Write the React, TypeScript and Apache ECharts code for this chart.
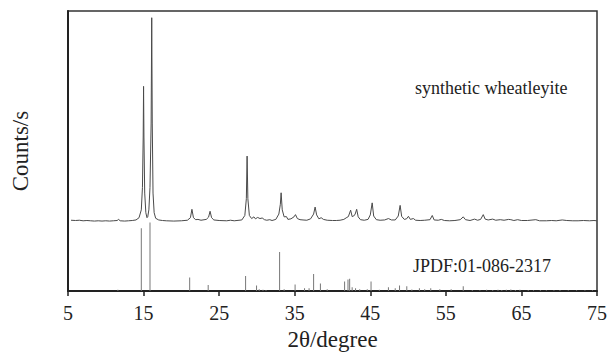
import React, { useEffect, useRef } from "react";
import * as echarts from "echarts";

// Measured XRD profile (2θ in degrees, relative intensity above its own baseline)
const patternPoints: [number, number][] = [
  [5.4,0.3],[6,0.2],[6.5,0.3],[7,0.1],[7.5,0.2],[8,0.1],[8.5,0],[9,0.1],[9.5,0],[10,0.1],[10.5,0],[11,0.1],[11.5,0.2],[11.7,0.6],[11.9,0.1],
  [12.5,0],[13,0.1],[13.5,0.2],[14,0.4],[14.4,1.2],[14.7,4],[14.85,12],[14.95,30],[15.0,48.1],[15.05,30],[15.15,10],[15.3,3],[15.45,1.2],
  [15.55,1.5],[15.7,4],[15.85,12],[16.0,35],[16.08,72.6],[16.15,35],[16.25,10],[16.4,3],[16.6,1],[17,0.4],[17.5,0.2],[18,0.1],[19,0],
  [20,0.1],[20.8,0.3],[21.2,1.2],[21.4,4.2],[21.6,1.2],[21.9,0.5],[22.2,0.6],[22.6,0.3],[23.3,0.6],[23.6,1.4],[23.8,3.5],[24.0,1.2],
  [24.3,0.4],[25,0.2],[26,0.1],[26.5,0.3],[27,0.1],[28,0.4],[28.4,2],[28.6,8],[28.7,23.2],[28.8,8],[29.0,2],[29.3,0.9],[29.6,1.5],
  [29.8,0.8],[30.1,1.3],[30.4,0.9],[30.7,1.1],[31,0.5],[31.3,0.3],[31.7,0.5],[32,0.2],[32.5,0.6],[32.9,2.5],[33.1,6],[33.2,10.1],
  [33.35,4],[33.6,1.5],[33.9,1.6],[34.1,0.6],[34.5,0.8],[34.9,1.5],[35.1,2.3],[35.35,0.9],[35.7,0.5],[36.1,0.4],[36.6,0.3],[37.1,0.8],
  [37.5,2.5],[37.7,5.0],[37.9,2.2],[38.2,0.8],[38.5,1.2],[38.8,0.6],[39.3,0.3],[40,0.2],[40.5,0.2],[41,0.3],[41.5,0.6],[41.9,1.3],
  [42.1,1.6],[42.4,3.9],[42.6,1.6],[42.8,1.8],[43.0,2.5],[43.2,4.2],[43.4,1.5],[43.7,0.5],[44.2,0.3],[44.7,0.6],[45.0,2.2],[45.25,6.5],
  [45.45,1.8],[45.8,0.5],[46.3,0.3],[46.9,0.4],[47.4,0.9],[47.8,0.4],[48.3,0.4],[48.7,1.8],[48.95,5.6],[49.15,1.7],[49.5,0.6],[49.8,0.8],
  [50.05,1.7],[50.3,0.6],[50.7,0.9],[51.0,0.3],[51.6,0.2],[52.2,0.3],[52.9,0.5],[53.2,2.0],[53.45,0.4],[54,0.3],[54.4,0.6],[54.8,0.2],
  [55.5,0.1],[56.2,0.2],[56.9,0.5],[57.3,1.5],[57.6,0.5],[58.2,0.2],[58.8,0.7],[59.2,0.3],[59.6,0.6],[59.95,2.3],[60.2,0.7],[60.6,0.4],
  [61.2,0.7],[61.6,0.3],[62.2,0.5],[62.7,0.3],[63.3,0.6],[63.6,0.5],[64.0,0.2],[64.5,0.5],[65,0.2],[65.8,0.2],[66.9,0.5],[67.4,0.1],
  [68.3,0.1],[69,0.2],[69.6,0.1],[70.4,0.4],[71,0.2],[71.8,0.1],[72.5,0.1],[73.2,0.2],[74,0.1],[74.6,0.2],[75,0.1],
];

// Vertical offset of the measured pattern above the reference sticks
const patternOffset = 25;

// Reference pattern JPDF:01-086-2317 (2θ, relative intensity)
const referenceSticks: [number, number][] = [
  [11.6,0.5],[14.7,22.4],[15.85,24.5],[21.1,4.9],[23.55,2.2],[28.5,5.4],[29.95,2.0],[30.3,0.7],[30.8,0.5],[31.2,0.4],
  [33.0,14.0],[33.6,0.7],[35.05,2.4],[36.3,1.0],[36.9,1.0],[37.5,6.1],[38.4,2.7],[39.3,0.7],[41.6,3.4],[42.05,4.1],
  [42.27,4.4],[42.6,1.4],[43.05,1.0],[43.6,0.7],[44.6,0.7],[45.1,3.4],[46.2,0.5],[47.4,1.4],[48.3,1.0],[48.87,2.0],
  [49.83,1.7],[50.5,0.6],[51.5,1.0],[52.2,0.7],[53.0,1.0],[54.2,0.7],[55.7,0.7],[57.3,1.7],[58.5,0.4],[59.5,0.3],
  [60.4,0.5],[61.2,0.4],[61.9,0.5],[62.4,0.4],[63.0,0.5],[63.6,0.6],[64.2,0.4],[64.8,0.5],[65.9,0.4],[66.6,0.3],
  [67.5,0.4],[68.3,0.3],[69.3,0.3],[70.1,0.4],[71.2,0.3],[72.3,0.3],[73.4,0.3],[74.4,0.3],
];

const xMin = 5;
const xMax = 75;
const xInterval = 10;
const sampleLabel = "synthetic wheatleyite";
const referenceLabel = "JPDF:01-086-2317";
const xTitle = "2θ/degree";
const yTitle = "Counts/s";

const FONT = "'Liberation Serif', 'Times New Roman', serif";

export default function App() {
  const ref = useRef<HTMLDivElement>(null);
  useEffect(() => {
    if (!ref.current) return;
    const chart = echarts.init(ref.current, undefined, { renderer: "svg" });
    chart.setOption({
      animation: false,
      backgroundColor: "#ffffff",
      grid: {
        left: 68,
        width: 534,
        top: 11,
        height: 293,
        show: true,
        borderColor: "#333",
        borderWidth: 1.5,
        backgroundColor: "transparent",
      },
      xAxis: {
        type: "value",
        min: xMin,
        max: xMax,
        interval: xInterval,
        name: xTitle,
        nameLocation: "middle",
        nameGap: 31,
        nameTextStyle: { fontFamily: FONT, fontSize: 23, color: "#222" },
        axisLine: { show: true, lineStyle: { color: "#222", width: 2 } },
        axisTick: { show: true, length: 5, lineStyle: { color: "#222", width: 1.5 } },
        axisLabel: { fontFamily: FONT, fontSize: 20, color: "#222", margin: 12 },
        splitLine: { show: false },
      },
      yAxis: {
        type: "value",
        min: 0,
        max: 100,
        name: yTitle,
        nameLocation: "middle",
        nameGap: 36,
        nameTextStyle: { fontFamily: FONT, fontSize: 23, color: "#222" },
        axisLine: { show: true, lineStyle: { color: "#222", width: 2 } },
        axisTick: { show: false },
        axisLabel: { show: false },
        splitLine: { show: false },
      },
      series: [
        {
          type: "bar",
          data: referenceSticks,
          barWidth: 1,
          itemStyle: { color: "#777" },
          silent: true,
        },
        {
          type: "line",
          data: patternPoints.map(([x, y]) => [x, y + patternOffset]),
          showSymbol: false,
          lineStyle: { color: "#4a4a4a", width: 1 },
          silent: true,
        },
      ],
      graphic: [
        {
          type: "text",
          left: 415,
          top: 79,
          style: { text: sampleLabel, font: `18px ${FONT}`, fill: "#222" },
        },
        {
          type: "text",
          left: 413,
          top: 257,
          style: { text: referenceLabel, font: `18px ${FONT}`, fill: "#222" },
        },
      ],
    });
    return () => chart.dispose();
  }, []);
  return (
    <div
      ref={ref}
      style={{ position: "fixed", left: 0, top: 0, width: 610, height: 356 }}
    />
  );
}
